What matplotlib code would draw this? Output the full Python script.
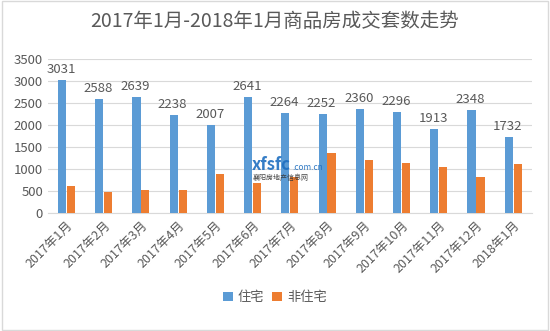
import matplotlib.pyplot as plt
import numpy as np

plt.rcParams['font.family'] = ['Noto Sans CJK SC', 'DejaVu Sans']

months = ['2017年1月', '2017年2月', '2017年3月', '2017年4月', '2017年5月', '2017年6月',
          '2017年7月', '2017年8月', '2017年9月', '2017年10月', '2017年11月', '2017年12月',
          '2018年1月']
zhuzhai = [3031, 2588, 2639, 2238, 2007, 2641, 2264, 2252, 2360, 2296, 1913, 2348, 1732]
fei_zhuzhai = [625, 475, 525, 520, 885, 685, 830, 1370, 1210, 1145, 1045, 810, 1120]

blue = '#5B9BD5'
orange = '#ED7D31'
grey = '#595959'

fig = plt.figure(figsize=(5.5, 3.31), dpi=100)
ax = fig.add_axes([0.087, 0.356, 0.88, 0.466])

x = np.arange(len(months))
w = 0.22
b1 = ax.bar(x - w / 2 - 0.01, zhuzhai, w, color=blue, label='住宅', zorder=3)
b2 = ax.bar(x + w / 2 + 0.01, fei_zhuzhai, w, color=orange, label='非住宅', zorder=3)

for xi, v in zip(x, zhuzhai):
    ax.text(xi - 0.15, v + 90, str(v), ha='center', va='bottom', fontsize=9.5, color=grey)

ax.set_xlim(-0.5, len(months) - 0.5)
ax.set_ylim(0, 3500)
ax.set_yticks(range(0, 3501, 500))
ax.yaxis.grid(True, color='#D9D9D9', linewidth=0.8, zorder=0)
ax.set_xticks(x)
ax.set_xticklabels(months, rotation=45, ha='right', rotation_mode='anchor', fontsize=9, color=grey)
ax.tick_params(axis='y', length=0, labelsize=9.5, labelcolor=grey)
ax.tick_params(axis='x', length=0, pad=4)
for s in ['top', 'right', 'left']:
    ax.spines[s].set_visible(False)
ax.spines['bottom'].set_color('#D9D9D9')

fig.text(0.5, 0.935, '2017年1月-2018年1月商品房成交套数走势', ha='center', va='center',
         fontsize=14, color=grey)
fig.legend(handles=[b1, b2], loc='center', bbox_to_anchor=(0.5, 0.1), ncol=2, frameon=False,
           fontsize=9.5, handlelength=0.7, handleheight=0.7, handletextpad=0.4, columnspacing=0.6,
           labelcolor=grey)

# watermark
fig.text(0.458, 0.485, 'xfsfc', color='#1f6fc0', fontsize=12, fontweight='bold', alpha=0.9,
         va='baseline')
fig.text(0.532, 0.485, '.com.cn', color='#1f6fc0', fontsize=6, alpha=0.9, va='baseline')
fig.text(0.46, 0.462, '襄阳房地产信息网', color='#333333', fontsize=5, alpha=0.9, va='center')

rect = plt.Rectangle((0.003, 0.003), 0.994, 0.994, transform=fig.transFigure, fill=False,
                     edgecolor='#D9D9D9', linewidth=1)
fig.patches.append(rect)

fig.savefig('out.png', dpi=100)
